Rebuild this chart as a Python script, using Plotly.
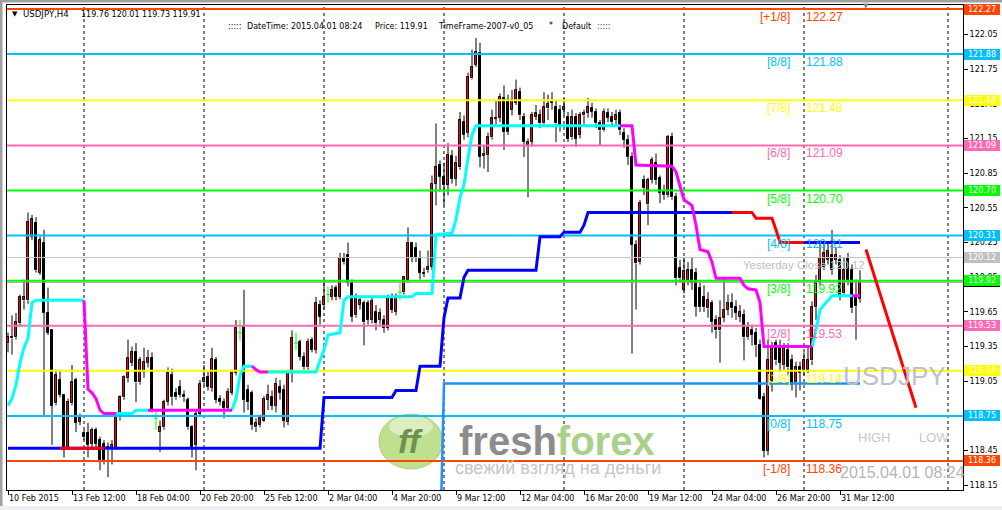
import plotly.graph_objects as go

# ---------------- data (USDJPY H4, bar index 0 = 10 Feb 2015 20:00) ----------------
O = [119.38, 119.42, 119.43, 119.55, 119.75, 119.75, 120.30, 120.42, 119.99, 120.25,
     119.64, 119.49, 118.86, 119.06, 118.93, 118.48, 118.86, 119.06, 118.70, 118.60,
     118.60, 118.51, 118.63, 118.54, 118.51, 118.46, 118.46, 118.48, 118.74, 118.91,
     119.08, 119.21, 119.30, 119.04, 119.13, 119.21, 119.25, 118.73, 118.61, 118.65,
     118.87, 119.10, 118.95, 119.00, 118.93, 118.89, 118.65, 118.50, 118.77, 119.04,
     119.09, 118.99, 119.23, 118.90, 118.87, 118.82, 118.95, 119.12, 119.47, 119.52,
     118.97, 118.95, 118.65, 118.67, 118.71, 118.89, 118.91, 118.84, 119.00, 118.97,
     118.70, 119.13, 119.38, 119.39, 119.26, 119.17, 119.41, 119.32, 119.71, 119.71,
     119.80, 119.78, 119.86, 119.78, 120.12, 120.14, 119.90, 119.62, 119.71, 119.73,
     119.73, 119.58, 119.65, 119.58, 119.58, 119.51, 119.77, 119.65, 119.82, 119.82,
     119.93, 120.25, 120.20, 120.11, 119.99, 120.01, 120.04, 120.76, 120.92, 120.82,
     120.75, 121.00, 120.80, 120.90, 121.29, 121.20, 121.67, 121.79, 121.89, 121.00,
     121.01, 121.16, 121.32, 121.33, 121.50, 121.48, 121.40, 121.46, 121.55, 121.34,
     121.09, 121.12, 121.34, 121.35, 121.28, 121.41, 121.46, 121.42, 121.40, 121.40,
     121.34, 121.16, 121.34, 121.18, 121.35, 121.37, 121.41, 121.38, 121.28, 121.22,
     121.37, 121.34, 121.31, 121.37, 121.20, 121.14, 120.99, 120.23, 120.08, 120.79,
     120.58, 120.79, 120.94, 120.81, 120.70, 120.66, 121.16, 120.64, 120.03, 119.84,
     119.93, 120.01, 119.99, 119.86, 119.78, 119.68, 119.73, 119.58, 119.49, 119.60,
     119.67, 119.73, 119.69, 119.61, 119.62, 119.43, 119.49, 119.47, 119.36, 118.91,
     118.45, 119.05, 119.38, 119.34, 119.19, 119.32, 119.23, 119.04, 119.17, 119.15,
     119.15, 119.23, 119.69, 119.91, 120.04, 120.10, 120.14, 120.10, 120.10, 119.81,
     120.12, 120.01, 119.78, 119.76]
H = [119.47, 119.62, 119.64, 119.80, 119.93, 120.51, 120.49, 120.47, 120.30, 120.36,
     119.86, 119.49, 119.15, 119.15, 118.93, 118.90, 119.19, 119.08, 118.77, 118.63,
     118.69, 118.65, 118.65, 118.57, 118.54, 118.52, 118.54, 118.78, 118.93, 119.10,
     119.41, 119.35, 119.38, 119.26, 119.34, 119.32, 119.30, 118.80, 118.71, 118.89,
     119.17, 119.16, 118.99, 119.06, 118.97, 118.91, 118.67, 118.80, 119.06, 119.19,
     119.13, 119.34, 119.26, 118.93, 118.90, 118.99, 119.15, 119.58, 119.58, 119.84,
     119.02, 118.97, 118.73, 118.76, 118.92, 119.02, 118.97, 119.08, 119.06, 119.02,
     119.15, 119.49, 119.47, 119.41, 119.30, 119.42, 119.43, 119.78, 119.75, 119.93,
     119.87, 119.88, 119.88, 120.16, 120.16, 120.25, 119.93, 119.81, 119.78, 119.75,
     119.75, 119.77, 119.71, 119.68, 119.62, 119.80, 119.81, 119.81, 119.90, 119.95,
     120.38, 120.25, 120.25, 120.18, 120.03, 120.18, 120.83, 121.28, 120.96, 120.94,
     121.11, 121.05, 121.00, 121.38, 121.35, 121.72, 121.92, 122.02, 121.98, 121.09,
     121.20, 121.40, 121.48, 121.54, 121.61, 121.53, 121.57, 121.66, 121.59, 121.37,
     121.15, 121.38, 121.44, 121.40, 121.55, 121.53, 121.55, 121.48, 121.44, 121.50,
     121.38, 121.40, 121.37, 121.38, 121.40, 121.50, 121.46, 121.41, 121.31, 121.41,
     121.41, 121.38, 121.40, 121.40, 121.24, 121.18, 121.03, 120.27, 120.62, 120.83,
     120.81, 120.99, 121.02, 120.83, 120.75, 121.18, 121.20, 120.68, 120.10, 120.12,
     120.08, 120.12, 120.03, 119.91, 119.88, 119.82, 119.75, 119.62, 119.75, 119.95,
     119.80, 119.81, 119.75, 119.71, 119.67, 119.56, 119.54, 119.51, 119.41, 118.95,
     119.41, 119.39, 119.41, 119.41, 119.38, 119.38, 119.28, 119.22, 119.22, 119.30,
     119.36, 119.74, 119.97, 120.27, 120.27, 120.25, 120.36, 120.21, 120.14, 120.12,
     120.16, 120.06, 119.93, 120.01]
L = [119.30, 119.28, 119.41, 119.53, 119.67, 119.72, 120.27, 119.99, 119.97, 118.74,
     119.45, 118.50, 118.84, 118.91, 118.39, 118.46, 118.84, 118.61, 118.67, 118.54,
     118.39, 118.48, 118.48, 118.28, 118.33, 118.22, 118.33, 118.46, 118.71, 118.89,
     119.04, 119.18, 118.87, 119.02, 119.08, 119.17, 118.78, 118.63, 118.44, 118.63,
     118.84, 118.84, 118.89, 118.91, 118.87, 118.63, 118.39, 118.28, 118.75, 119.01,
     118.97, 118.96, 118.86, 118.84, 118.73, 118.80, 118.93, 119.10, 119.40, 118.78,
     118.80, 118.63, 118.61, 118.65, 118.70, 118.80, 118.80, 118.78, 118.89, 118.65,
     118.67, 119.04, 119.32, 119.23, 119.15, 119.15, 119.30, 119.29, 119.54, 119.67,
     119.73, 119.75, 119.75, 119.76, 120.06, 119.87, 119.56, 119.60, 119.67, 119.36,
     119.54, 119.55, 119.49, 119.54, 119.47, 119.49, 119.64, 119.62, 119.75, 119.80,
     119.90, 120.08, 120.08, 119.93, 119.95, 119.99, 120.01, 120.57, 120.69, 120.57,
     120.66, 120.76, 120.74, 120.88, 121.14, 121.16, 121.66, 121.77, 120.90, 120.89,
     120.86, 121.14, 121.27, 121.29, 121.05, 121.18, 121.35, 121.44, 121.31, 120.99,
     120.64, 121.08, 121.31, 121.24, 121.26, 121.31, 121.40, 121.12, 121.21, 121.35,
     121.12, 121.14, 121.08, 121.15, 121.27, 121.33, 121.33, 121.24, 121.09, 121.21,
     121.29, 121.26, 121.27, 121.18, 121.07, 120.92, 119.29, 119.67, 120.06, 120.66,
     120.40, 120.76, 120.75, 120.59, 120.62, 120.64, 120.62, 119.88, 119.90, 119.81,
     119.88, 119.84, 119.61, 119.65, 119.65, 119.60, 119.47, 119.42, 119.21, 119.56,
     119.62, 119.60, 119.58, 119.56, 119.23, 119.41, 119.36, 119.26, 118.89, 118.39,
     118.41, 118.96, 119.19, 119.13, 119.15, 119.10, 118.97, 118.91, 118.97, 119.10,
     119.12, 119.19, 119.58, 119.88, 120.01, 120.06, 119.97, 120.06, 119.75, 119.78,
     119.88, 119.64, 119.41, 119.73]
C = [119.43, 119.43, 119.56, 119.78, 119.78, 120.43, 120.45, 120.01, 120.27, 119.64,
     119.47, 118.84, 119.10, 118.93, 118.48, 118.87, 119.04, 118.69, 118.73, 118.57,
     118.50, 118.63, 118.51, 118.37, 118.37, 118.48, 118.50, 118.74, 118.91, 119.09,
     119.25, 119.30, 119.04, 119.23, 119.22, 119.25, 118.80, 118.73, 118.65, 118.87,
     119.12, 118.91, 118.91, 118.93, 118.91, 118.65, 118.48, 118.77, 119.03, 119.08,
     119.00, 119.24, 118.89, 118.87, 118.82, 118.96, 119.12, 119.51, 119.47, 118.89,
     118.87, 118.67, 118.69, 118.73, 118.90, 118.93, 118.84, 119.03, 118.95, 118.71,
     119.13, 119.42, 119.38, 119.26, 119.17, 119.39, 119.32, 119.73, 119.61, 119.78,
     119.80, 119.84, 119.78, 120.12, 120.08, 119.90, 119.61, 119.77, 119.75, 119.56,
     119.58, 119.74, 119.55, 119.64, 119.51, 119.77, 119.67, 119.78, 119.82, 119.95,
     120.25, 120.12, 120.12, 119.99, 119.98, 120.04, 120.76, 120.90, 120.82, 120.75,
     121.01, 120.80, 120.94, 121.31, 121.18, 121.68, 121.77, 121.90, 120.99, 121.02,
     121.16, 121.33, 121.33, 121.51, 121.21, 121.21, 121.48, 121.57, 121.35, 121.12,
     121.12, 121.35, 121.37, 121.28, 121.42, 121.45, 121.47, 121.28, 121.25, 121.42,
     121.15, 121.34, 121.15, 121.35, 121.37, 121.42, 121.38, 121.28, 121.22, 121.38,
     121.33, 121.29, 121.35, 121.22, 121.14, 120.99, 120.23, 120.07, 120.59, 120.72,
     120.79, 120.96, 120.79, 120.68, 120.66, 121.16, 120.64, 119.94, 119.94, 120.00,
     120.01, 119.90, 119.69, 119.69, 119.69, 119.75, 119.56, 119.49, 119.60, 119.67,
     119.73, 119.68, 119.64, 119.65, 119.43, 119.51, 119.45, 119.36, 118.90, 118.45,
     119.23, 119.34, 119.23, 119.21, 119.34, 119.17, 119.02, 119.17, 119.12, 119.23,
     119.23, 119.69, 119.91, 120.12, 120.16, 120.18, 120.01, 120.14, 119.78, 120.01,
     119.93, 119.68, 119.70, 119.91]

xtick_bars = [0, 16, 32, 48, 64, 80, 96, 112, 128, 144, 160, 176, 192, 208]
xtick_text = ["10 Feb 2015", "13 Feb 12:00", "18 Feb 04:00", "20 Feb 20:00", "25 Feb 12:00",
              "2 Mar 04:00", "4 Mar 20:00", "9 Mar 12:00", "12 Mar 04:00", "16 Mar 20:00",
              "19 Mar 12:00", "24 Mar 04:00", "26 Mar 20:00", "31 Mar 12:00"]
grid_bars = [19, 49, 79, 109, 139, 169, 199, 235]
price_ticks = [122.05, 121.75, 121.45, 121.15, 120.85, 120.55, 120.25, 119.95,
               119.65, 119.35, 119.05, 118.75, 118.45, 118.15]

mm_levels = [122.27, 121.88, 121.48, 121.09, 120.70, 120.31, 119.92, 119.53, 119.14, 118.75, 118.36]
mm_names = ["[+1/8]", "[8/8]", "[7/8]", "[6/8]", "[5/8]", "[4/8]", "[3/8]", "[2/8]", "[1/8]", "[0/8]", "[-1/8]"]
yesterday_close = 120.12
bid_price = C[-1]

# trailing-stop style indicator (cyan = up, magenta = down), vertices (bar, price)
ts1_up = [
    [(0, 118.84), (1, 118.90), (2, 119.02), (3, 119.21), (4, 119.34), (5, 119.42), (6, 119.73), (7, 119.75), (19, 119.75)],
    [(27, 118.77), (31, 118.77), (32, 118.80), (35, 118.80)],
    [(56, 118.80), (57, 118.90), (58, 119.10), (59, 119.18), (61, 119.18)],
    [(65, 119.13), (77, 119.13), (78, 119.23), (79, 119.32), (80, 119.45), (83, 119.47), (84, 119.75), (85, 119.78),
     (101, 119.78), (102, 119.81), (106, 119.81), (107, 120.32), (111, 120.33), (112, 120.45), (113, 120.64),
     (114, 120.75), (115, 120.98), (116, 121.18), (117, 121.26), (153, 121.26)],
    [(201, 119.35), (202, 119.49), (203, 119.67), (204, 119.71), (205, 119.75), (206, 119.79), (211, 119.79)],
]
ts1_down = [
    [(19, 119.75), (20, 118.98), (21, 118.95), (22, 118.90), (23, 118.80), (24, 118.77), (27, 118.77)],
    [(35, 118.80), (56, 118.80)],
    [(61, 119.18), (62, 119.15), (63, 119.13), (65, 119.13)],
    [(153, 121.26), (156, 121.26), (157, 120.92), (166, 120.91), (167, 120.86), (168, 120.75), (169, 120.62),
     (171, 120.57), (172, 120.40), (173, 120.19), (175, 120.17), (176, 120.08), (177, 119.94), (183, 119.94),
     (184, 119.88), (185, 119.85), (187, 119.84), (188, 119.73), (189, 119.35), (201, 119.35)],
    [(211, 119.79), (213, 119.79)],
]
# slower stop line (blue, red sections)
ts2_blue = [
    [(0, 118.47), (78, 118.47), (79, 118.91), (96, 118.91), (97, 118.97), (102, 118.97), (103, 119.18), (108, 119.18),
     (109, 119.60), (110, 119.77), (113, 119.77), (114, 119.95), (115, 120.01), (132, 120.01), (133, 120.30),
     (138, 120.30), (139, 120.34), (143, 120.34), (144, 120.40), (145, 120.51), (181, 120.51)],
    [(199, 120.25), (213, 120.25)],
]
ts2_red = [
    [(13, 118.47), (24, 118.47)],
    [(181, 120.51), (186, 120.51), (187, 120.46), (191, 120.46), (192, 120.36), (193, 120.25), (199, 120.25)],
]
ts3 = [(108, 117.60), (109, 119.03), (213, 119.03)]
trend_line = [(214.5, 120.19), (227, 118.82)]

# ---------------- figure ----------------
N = len(O)
assert len(H) == N and len(L) == N and len(C) == N, (len(O), len(H), len(L), len(C))

W, HT = 1002, 510
ML, MR, MT, MB = 7, 39, 5, 20
XMIN, XMAX = -0.25, 238.75
YMIN, YMAX = 118.109, 122.305
PW, PH = W - ML - MR, HT - MT - MB


def px(x):
    return (x - ML) / PW


def py(y):
    return (HT - MB - y) / PH


ORANGE, SKY, YEL, PINK, LIME = "#FF4500", "#00BFFF", "#FFFF00", "#FF69B4", "#00FF00"
mm_colors = [ORANGE, SKY, YEL, PINK, LIME, SKY, LIME, PINK, YEL, SKY, ORANGE]

fig = go.Figure()

# wicks (split so they never cross bodies)
wx, wy = [], []
for i in range(N):
    if O[i] == C[i]:
        continue
    top, bot = max(O[i], C[i]), min(O[i], C[i])
    if H[i] > top:
        wx += [i, i, None]
        wy += [top, H[i], None]
    if L[i] < bot:
        wx += [i, i, None]
        wy += [bot, L[i], None]
fig.add_trace(go.Scatter(x=wx, y=wy, mode="lines", line=dict(color="black", width=1), hoverinfo="skip"))

bull = [i for i in range(N) if C[i] > O[i]]
bear = [i for i in range(N) if C[i] < O[i]]
doji = [i for i in range(N) if C[i] == O[i]]
fig.add_trace(go.Bar(x=bull, y=[C[i] - O[i] for i in bull], base=[O[i] for i in bull], width=0.62,
                     marker=dict(color="#FF0000", line=dict(color="black", width=1)), hoverinfo="skip"))
fig.add_trace(go.Bar(x=bear, y=[O[i] - C[i] for i in bear], base=[C[i] for i in bear], width=0.62,
                     marker=dict(color="black", line=dict(color="black", width=1)), hoverinfo="skip"))
dx, dy = [], []
for i in doji:
    dx += [i, i, None, i - 0.45, i + 0.45, None]
    dy += [L[i], H[i], None, O[i], O[i], None]
fig.add_trace(go.Scatter(x=dx, y=dy, mode="lines", line=dict(color="#00FF00", width=1), hoverinfo="skip"))

# bid + yesterday close + Murrey math lines
fig.add_trace(go.Scatter(x=[XMIN, XMAX], y=[bid_price - 0.004] * 2, mode="lines",
                         line=dict(color="#9A9A9A", width=1), hoverinfo="skip"))
fig.add_trace(go.Scatter(x=[XMIN, XMAX], y=[yesterday_close] * 2, mode="lines",
                         line=dict(color="#C0C0C0", width=1), hoverinfo="skip"))
for lvl, col in zip(mm_levels, mm_colors):
    fig.add_trace(go.Scatter(x=[XMIN, XMAX], y=[lvl, lvl], mode="lines",
                             line=dict(color=col, width=2), hoverinfo="skip"))


def add_path(pts, color, width):
    fig.add_trace(go.Scatter(x=[p[0] for p in pts], y=[p[1] for p in pts], mode="lines",
                             line=dict(color=color, width=width), hoverinfo="skip"))


add_path(ts3, "#1E90FF", 2.5)
for seg in ts2_blue:
    add_path(seg, "#0000FF", 3)
for seg in ts2_red:
    add_path(seg, "#FF0000", 3)
for seg in ts1_up:
    add_path(seg, "#00FFFF", 3)
for seg in ts1_down:
    add_path(seg, "#FF00FF", 3)
add_path(trend_line, "#FF0000", 3)

# shapes: grid, window frame, watermark logo
shapes = []
for b in grid_bars:
    shapes.append(dict(type="line", xref="x", yref="paper", x0=b, x1=b, y0=0, y1=1, layer="below",
                       line=dict(color="black", width=1, dash="3px,3px")))
shapes.append(dict(type="rect", xref="paper", yref="paper", x0=px(0), x1=px(W), y0=py(0), y1=py(2.5),
                   fillcolor="#A0A0A0", line=dict(width=0)))
shapes.append(dict(type="rect", xref="paper", yref="paper", x0=px(0), x1=px(2.5), y0=py(0), y1=py(HT),
                   fillcolor="#A0A0A0", line=dict(width=0)))
shapes.append(dict(type="rect", xref="paper", yref="paper", x0=px(0), x1=px(W), y0=py(506), y1=py(HT),
                   fillcolor="#F0F0F0", line=dict(width=0)))
shapes.append(dict(type="circle", xref="paper", yref="paper", x0=px(379), x1=px(443), y0=py(414), y1=py(469),
                   fillcolor="#B5DC7C", opacity=0.85, layer="below", line=dict(color="#9CCB63", width=1)))
shapes.append(dict(type="circle", xref="paper", yref="paper", x0=px(389), x1=px(433), y0=py(416), y1=py(437),
                   fillcolor="#FFFFFF", opacity=0.45, layer="below", line=dict(width=0)))
fig.update_layout(shapes=shapes)

FONT_UI = "DejaVu Sans"
FONT_TX = "Liberation Sans"


def ann_px(text, x, y, size, color, family=FONT_TX, xanchor="left", **kw):
    fig.add_annotation(text=text, x=px(x), y=py(y), xref="paper", yref="paper", xanchor=xanchor,
                       yanchor="middle", showarrow=False, borderpad=0, borderwidth=0,
                       font=dict(size=size, color=color, family=family, **kw))


# watermark
ann_px("ff", 411, 441, 34, "#6E9150", xanchor="center", weight="bold", style="italic")
ann_px("<span style='color:#8C8C8C'>fresh</span><span style='color:#A9D18A'>forex</span>",
       557, 441, 40, "#8C8C8C", xanchor="center", weight="bold")
ann_px("свежий взгляд на деньги", 558, 468, 18, "#C6C6C6", xanchor="center")

# header texts
ann_px("▼", 15, 14, 7, "black", family=FONT_UI, xanchor="center")
ann_px("USDJPY,H4", 23, 14, 8.6, "black", family=FONT_UI)
ann_px("%.2f %.2f %.2f %.2f" % (O[-1], H[-1], L[-1], C[-1]), 81, 14, 8, "black", family=FONT_UI)
ann_px(":::::", 228, 27, 8, "black", family=FONT_UI)
ann_px("DateTime: 2015.04.01 08:24", 247, 27, 8, "black", family=FONT_UI)
ann_px("Price: %.2f" % C[-1], 375, 27, 8, "black", family=FONT_UI)
ann_px("TimeFrame-2007-v0_05", 438, 27, 8, "black", family=FONT_UI)
ann_px("*", 549, 26, 8, "black", family=FONT_UI)
ann_px("Default", 562, 27, 8, "black", family=FONT_UI)
ann_px(":::::", 597, 27, 8, "#800080", family=FONT_UI)
ann_px("▼", 866, 6, 7, "#7F8894", family=FONT_UI, xanchor="center")

# right-area texts
ann_px("USDJPY", 843, 376, 26, "#BCC1CA")
ann_px("HIGH", 858, 437, 13, "#C8C8C8")
ann_px("LOW", 919, 437, 13, "#C8C8C8")
ann_px("2015.04.01 08:24", 840, 472, 16, "#B4B4B4")

# Murrey labels
for lvl, name, col in zip(mm_levels, mm_names, mm_colors):
    fig.add_annotation(text=name, x=195.5, y=lvl, xref="x", yref="y", xanchor="right", yanchor="middle",
                       yshift=-8, showarrow=False, borderpad=0, borderwidth=0,
                       font=dict(size=12, color=col, family=FONT_TX))
    fig.add_annotation(text="%.2f" % lvl, x=199.5, y=lvl, xref="x", yref="y", xanchor="left", yanchor="middle",
                       yshift=-8, showarrow=False, borderpad=0, borderwidth=0,
                       font=dict(size=12, color=col, family=FONT_TX))
fig.add_annotation(text="Yesterday Close %.2f" % yesterday_close, x=183.75, y=yesterday_close, xref="x", yref="y",
                   xanchor="left", yanchor="middle", yshift=-7, showarrow=False, borderpad=0, borderwidth=0,
                   font=dict(size=11.5, color="#C0C0C0", family=FONT_TX))

# price boxes on the right axis
box_levels = [bid_price] + mm_levels + [yesterday_close]
box_colors = ["black"] + mm_colors + ["#C0C0C0"]
for lvl, col in zip(box_levels, box_colors):
    fig.add_annotation(text="%.2f" % lvl, x=1, y=lvl, xref="paper", yref="y", xanchor="left", yanchor="middle",
                       xshift=1, showarrow=False, width=36, height=11, bgcolor=col, borderpad=0, borderwidth=0,
                       font=dict(size=8, color="white", family=FONT_UI))

# time labels (left aligned at their tick, MT4 style)
for b, t in zip(xtick_bars, xtick_text):
    fig.add_annotation(text=t, x=b, y=0, xref="x", yref="paper", xanchor="left", yanchor="top",
                       xshift=1, yshift=-4, showarrow=False, borderpad=0, borderwidth=0,
                       font=dict(size=8, color="black", family=FONT_UI))

fig.update_layout(
    width=W, height=HT, margin=dict(l=ML, r=MR, t=MT, b=MB),
    paper_bgcolor="white", plot_bgcolor="white", showlegend=False, barmode="overlay", bargap=0,
    xaxis=dict(range=[XMIN, XMAX], showgrid=False, zeroline=False, showline=True, linecolor="black",
               linewidth=1, mirror=True, ticks="outside", ticklen=4, tickcolor="black",
               tickvals=xtick_bars, showticklabels=False, fixedrange=True),
    yaxis=dict(range=[YMIN, YMAX], side="right", showgrid=False, zeroline=False, showline=True,
               linecolor="black", linewidth=1, mirror=True, ticks="outside", ticklen=4, tickcolor="black",
               tickvals=price_ticks, ticktext=["%.2f" % v for v in price_ticks],
               tickfont=dict(size=8, color="black", family=FONT_UI), fixedrange=True),
)

fig.write_html("out.html", config={"displayModeBar": False},
               post_script="document.body.style.margin='0';document.body.style.overflow='hidden';")
